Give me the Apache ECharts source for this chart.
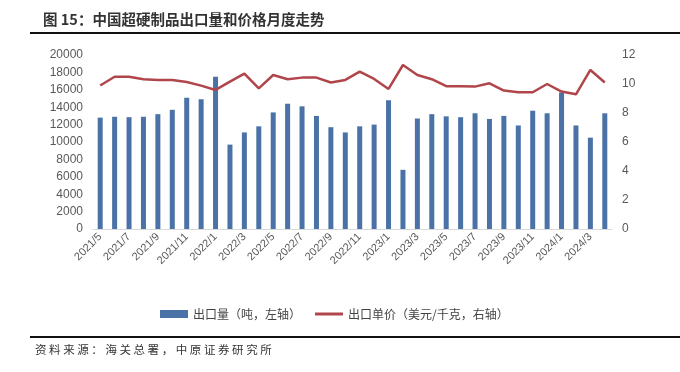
<!DOCTYPE html>
<html><head><meta charset="utf-8">
<script src="https://cdn.jsdelivr.net/npm/echarts@6/dist/echarts.min.js"></script>
<style>html,body{margin:0;padding:0;background:#fff}#c{width:680px;height:372px}</style>
</head><body><div id="c"></div>
<script>
const categories = ['2021/5','2021/6','2021/7','2021/8','2021/9','2021/10','2021/11','2021/12',
'2022/1','2022/2','2022/3','2022/4','2022/5','2022/6','2022/7','2022/8','2022/9','2022/10','2022/11','2022/12',
'2023/1','2023/2','2023/3','2023/4','2023/5','2023/6','2023/7','2023/8','2023/9','2023/10','2023/11','2023/12',
'2024/1','2024/2','2024/3','2024/4'];
const volume = [12800,12900,12850,12900,13200,13700,15100,14900,17500,9700,11100,11800,13400,14400,14100,13000,
11700,11100,11800,12000,14800,6800,12700,13200,12950,12850,13300,12650,13000,11900,13600,13300,15700,11900,10500,13300];
const price = [9.9,10.5,10.5,10.33,10.28,10.28,10.14,9.89,9.59,10.16,10.72,9.7,10.62,10.33,10.44,10.44,
10.1,10.28,10.85,10.35,9.66,11.31,10.62,10.33,9.85,9.84,9.82,10.05,9.55,9.43,9.43,10.0,9.48,9.29,10.97,10.1];
const leftTicks = [0,20000,2000];
const rightTicks = [0,12,2];

const chart = echarts.init(document.getElementById('c'));
const fam = '"Noto Sans CJK SC", sans-serif';
chart.setOption({
  animation:false,
  title:{text:'图 15：中国超硬制品出口量和价格月度走势',left:38,top:7,
    textStyle:{fontSize:14.5,fontWeight:'bold',color:'#333',fontFamily:fam}},
  graphic:[
    {type:'line',shape:{x1:30,y1:33,x2:680,y2:33},style:{stroke:'#111',lineWidth:2}},
    {type:'line',shape:{x1:30,y1:337,x2:680,y2:337},style:{stroke:'#111',lineWidth:2}},
    {type:'text',left:35,top:344,style:{text:'资 料 来 源 ： 海 关 总 署 ， 中 原 证 券 研 究 所',fontSize:11.5,fill:'#333',fontFamily:fam}}
  ],
  legend:{top:303,left:155,itemGap:14,itemWidth:28,itemHeight:8,symbolKeepAspect:true,
    textStyle:{fontSize:12,color:'#444',fontFamily:fam},
    data:[{name:'出口量（吨，左轴）',icon:'rect'},
          {name:'出口单价（美元/千克，右轴）',icon:'path://M0,0 L28,0 L28,3 L0,3 Z'}]},
  grid:{left:93,right:68,top:55,bottom:143},
  xAxis:{type:'category',data:categories,boundaryGap:true,
    axisLine:{lineStyle:{color:'#d9d9d9'}},
    axisTick:{interval:1,length:5,lineStyle:{color:'#d9d9d9'}},
    axisLabel:{interval:1,rotate:45,fontSize:11,color:'#595959',margin:6,fontFamily:'"Liberation Sans", Arial'}},
  yAxis:[
    {type:'value',min:leftTicks[0],max:leftTicks[1],interval:leftTicks[2],
     splitLine:{show:false},axisLine:{show:false},axisTick:{show:false},
     axisLabel:{fontSize:12,color:'#595959',margin:10,formatter:v=>String(v),fontFamily:'"Liberation Sans", Arial'}},
    {type:'value',min:rightTicks[0],max:rightTicks[1],interval:rightTicks[2],
     splitLine:{show:false},axisLine:{show:false},axisTick:{show:false},
     axisLabel:{fontSize:12,color:'#595959',margin:10,formatter:v=>String(v),fontFamily:'"Liberation Sans", Arial'}}
  ],
  series:[
    {name:'出口量（吨，左轴）',type:'bar',data:volume,barWidth:5,itemStyle:{color:'#4a72a6'}},
    {name:'出口单价（美元/千克，右轴）',type:'line',yAxisIndex:1,data:price,symbol:'none',
     lineStyle:{color:'#b0464b',width:2.5},itemStyle:{color:'#b0464b'}}
  ]
});
</script></body></html>
